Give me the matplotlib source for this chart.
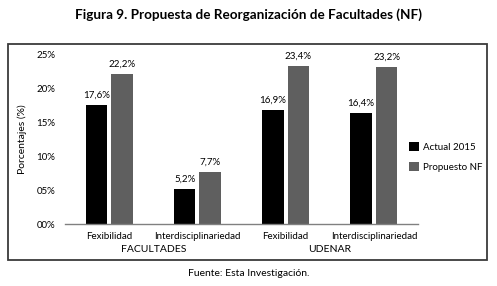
import matplotlib
matplotlib.use("Agg")
import matplotlib.pyplot as plt
from matplotlib.patches import Rectangle
import numpy as np

plt.rcParams['font.family'] = ['Lato', 'DejaVu Sans']

categories = ["Fexibilidad", "Interdisciplinariedad", "Fexibilidad", "Interdisciplinariedad"]
groups = ["FACULTADES", "UDENAR"]
actual_2015 = [17.6, 5.2, 16.9, 16.4]
propuesto_nf = [22.2, 7.7, 23.4, 23.2]
actual_labels = ["17,6%", "5,2%", "16,9%", "16,4%"]
propuesto_labels = ["22,2%", "7,7%", "23,4%", "23,2%"]
yticks = [0, 5, 10, 15, 20, 25]
ytick_labels = ["00%", "05%", "10%", "15%", "20%", "25%"]

W, H = 497, 286
fig = plt.figure(figsize=(W/100, H/100), dpi=100)

# outer frame
fig.patches.append(Rectangle((8/W, 1-260/H), 479/W, 216/H, transform=fig.transFigure,
                             fill=False, edgecolor="#3a3a3a", linewidth=1.3))

ax = fig.add_axes([65/W, 1-224/H, 353/W, (224-55)/H])
x = np.arange(len(categories))
bw = 0.245
gap = 0.045
ax.bar(x - bw/2 - gap/2, actual_2015, width=bw, color="#000000", label="Actual 2015")
ax.bar(x + bw/2 + gap/2, propuesto_nf, width=bw, color="#5f5f5f", label="Propuesto NF")

for i in range(len(categories)):
    ax.text(x[i] - bw/2 - gap/2, actual_2015[i] + 0.8, actual_labels[i], ha="center", va="bottom", fontsize=7)
    ax.text(x[i] + bw/2 + gap/2, propuesto_nf[i] + 0.8, propuesto_labels[i], ha="center", va="bottom", fontsize=7)

ax.set_xlim(-0.5, 3.5)
ax.set_ylim(0, 25)
ax.set_yticks(yticks)
ax.set_yticklabels(ytick_labels, fontsize=7)
ax.set_xticks(x)
ax.set_xticklabels(categories, fontsize=7)
ax.tick_params(axis="x", length=0, pad=6)
ax.tick_params(axis="y", length=0, pad=7)
for s in ["top", "right", "left"]:
    ax.spines[s].set_visible(False)
ax.spines["bottom"].set_color("#808080")
ax.spines["bottom"].set_linewidth(1.0)
ax.set_ylabel("Porcentajes (%)", fontsize=7.5)
ax.yaxis.set_label_coords(-0.108, 0.5)

# group labels
for gi, g in enumerate(groups):
    ax.text(2*gi + 0.5, -0.125, g, transform=ax.get_xaxis_transform(), ha="center", va="top", fontsize=7.5)

leg = fig.legend(*ax.get_legend_handles_labels(), loc="upper left", bbox_to_anchor=(409/W, 1-142/H),
                 bbox_transform=fig.transFigure, frameon=False, fontsize=7, borderpad=0, borderaxespad=0,
                 handlelength=1.0, handleheight=1.0, handletextpad=0.4, labelspacing=1.05)

fig.text(0.5, 1-15/H, "Figura 9. Propuesta de Reorganización de Facultades (NF)", ha="center", va="center",
         fontsize=9.7, fontweight="bold")
fig.text(0.5, 1-274/H, "Fuente: Esta Investigación.", ha="center", va="center", fontsize=7.5)

fig.savefig("out.png", dpi=100)
